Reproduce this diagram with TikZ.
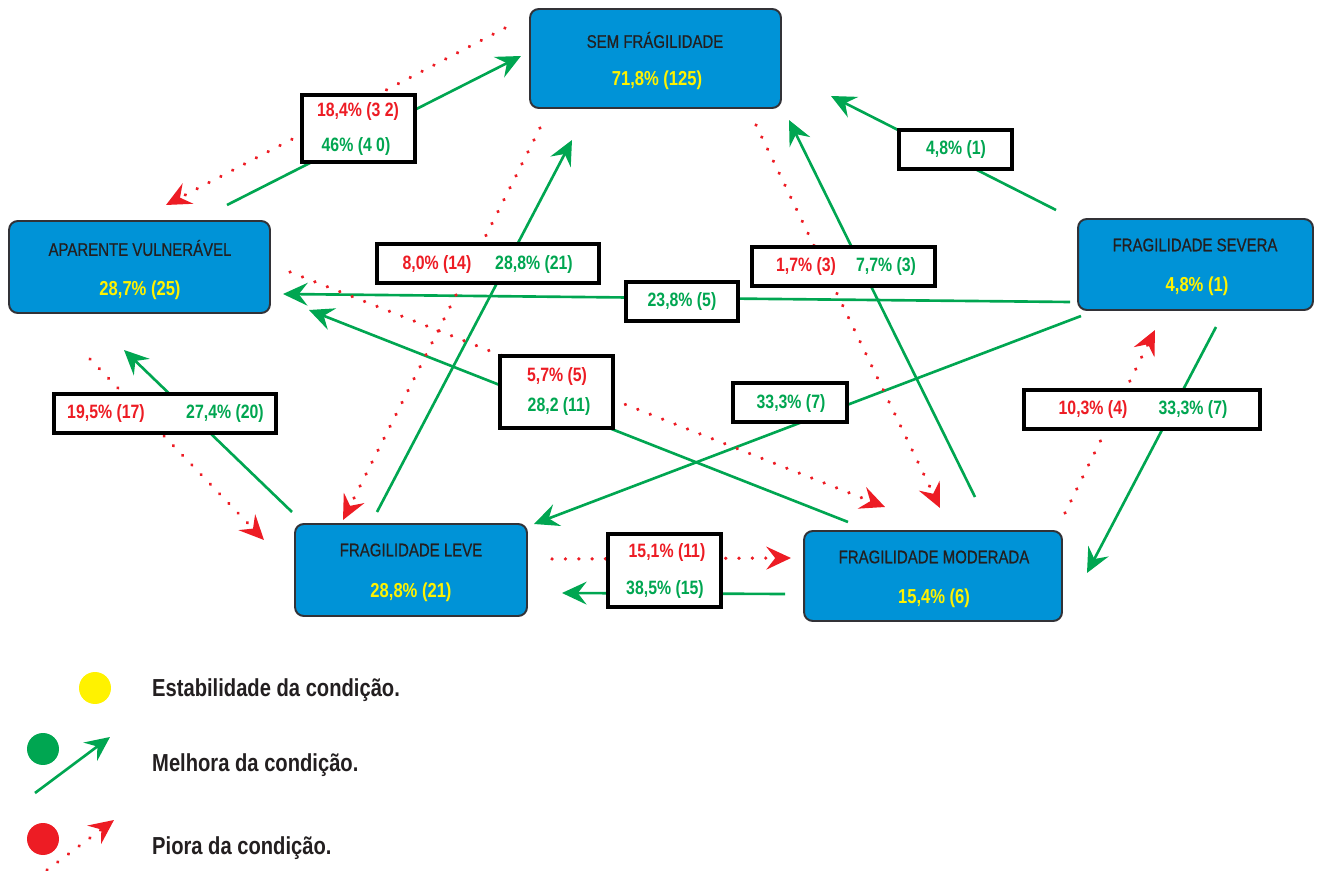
\documentclass[tikz,border=0pt]{standalone}
\usepackage{fontspec}
\setmainfont{Liberation Sans}[FakeStretch=0.82]
\usetikzlibrary{arrows.meta}

\definecolor{boxblue}{RGB}{0,147,215}
\definecolor{boxline}{RGB}{50,50,55}
\definecolor{darktext}{RGB}{35,31,32}
\definecolor{valyellow}{RGB}{255,242,0}
\definecolor{okgreen}{RGB}{0,166,81}
\definecolor{badred}{RGB}{237,28,36}

\begin{document}
\begin{tikzpicture}[x=0.02cm,y=-0.02cm,
  estado/.style={draw=boxline,fill=boxblue,line width=1.1pt,rounded corners=5pt,inner sep=0pt},
  titulo/.style={text=darktext,font=\fontsize{10.4}{12}\selectfont\addfontfeature{FakeBold=0.6}},
  valor/.style={text=valyellow,font=\bfseries\fontsize{11.5}{13}\selectfont},
  caixa/.style={draw=black,fill=white,line width=2pt,inner sep=0pt},
  verm/.style={text=badred,font=\bfseries\fontsize{11}{13}\selectfont},
  verd/.style={text=okgreen,font=\bfseries\fontsize{11}{13}\selectfont},
  melhora/.style={okgreen,line width=1.5pt,-{Stealth[length=14pt,width=13pt,inset=5pt]}},
  piora/.style={badred,line width=2pt,line cap=round,dash pattern=on 0.1pt off 7.5pt,-{Stealth[length=14pt,width=13pt,inset=5pt]}},
  legenda/.style={text=darktext,anchor=west,font=\bfseries\fontsize{14}{16}\selectfont}]
  \useasboundingbox (0,0) rectangle (1319,871);

  % Estados
  \node[estado,minimum width=5.02cm,minimum height=1.98cm] (sem) at (655.5,58.5) {};
  \node[estado,minimum width=5.22cm,minimum height=1.84cm] (av) at (139.5,267) {};
  \node[estado,minimum width=4.70cm,minimum height=1.82cm] (sev) at (1195.5,264.5) {};
  \node[estado,minimum width=4.64cm,minimum height=1.84cm] (leve) at (411,570) {};
  \node[estado,minimum width=5.16cm,minimum height=1.80cm] (mod) at (933,576) {};
  \node[titulo] (semt) at (655,40) {SEM FRÁGILIDADE};
  \node[valor] (semv) at (657,80) {71,8\% (125)};
  \node[titulo] (avt) at (140,248) {APARENTE VULNERÁVEL};
  \node[valor] (avv) at (140,290) {28,7\% (25)};
  \node[titulo] (sevt) at (1195,245) {FRAGILIDADE SEVERA};
  \node[valor] (sevv) at (1197,286) {4,8\% (1)};
  \node[titulo] (levet) at (411,550) {FRAGILIDADE LEVE};
  \node[valor] (levev) at (411,592) {28,8\% (21)};
  \node[titulo] (modt) at (934,557) {FRAGILIDADE MODERADA};
  \node[valor] (modv) at (934,598) {15,4\% (6)};

  % Pontas das setas
  \coordinate (g1a) at (227,205);  \coordinate (g1b) at (521,56);
  \coordinate (r1a) at (505,28);   \coordinate (r1b) at (166,205);
  \coordinate (g2a) at (377,512);  \coordinate (g2b) at (572,140);
  \coordinate (r2a) at (540,128);  \coordinate (r2b) at (343,520);
  \coordinate (r3a) at (756,125);  \coordinate (r3b) at (940,508);
  \coordinate (g3a) at (975,497);  \coordinate (g3b) at (789,120);
  \coordinate (g4a) at (1056,210); \coordinate (g4b) at (831,96);
  \coordinate (g5a) at (1070,302); \coordinate (g5b) at (283,294);
  \coordinate (g6a) at (848,522);  \coordinate (g6b) at (309,310);
  \coordinate (r4a) at (290,272);  \coordinate (r4b) at (885,507);
  \coordinate (g7a) at (1081,316); \coordinate (g7b) at (534,524);
  \coordinate (r5a) at (1065,513); \coordinate (r5b) at (1155,330);
  \coordinate (g8a) at (1216,327); \coordinate (g8b) at (1087,573);
  \coordinate (g9a) at (292,512);  \coordinate (g9b) at (124,350);
  \coordinate (r6a) at (90,359);   \coordinate (r6b) at (264,540);
  \coordinate (r7a) at (552,559);  \coordinate (r7b) at (791,558);
  \coordinate (g10a) at (785,594); \coordinate (g10b) at (562,593);

  % Melhora
  \draw[melhora] (g1a) -- (g1b);
  \draw[melhora] (g2a) -- (g2b);
  \draw[melhora] (g3a) -- (g3b);
  \draw[melhora] (g4a) -- (g4b);
  \draw[melhora] (g5a) -- (g5b);
  \draw[melhora] (g6a) -- (g6b);
  \draw[melhora] (g7a) -- (g7b);
  \draw[melhora] (g8a) -- (g8b);
  \draw[melhora] (g9a) -- (g9b);
  \draw[melhora] (g10a) -- (g10b);

  % Piora
  \draw[piora] (r1a) -- (r1b);
  \draw[piora] (r2a) -- (r2b);
  \draw[piora] (r3a) -- (r3b);
  \draw[piora] (r4a) -- (r4b);
  \draw[piora] (r5a) -- (r5b);
  \draw[piora] (r6a) -- (r6b);
  \draw[piora] (r7a) -- (r7b);

  % Caixas
  \node[caixa,minimum width=2.26cm,minimum height=1.34cm] (b1) at (358.5,128.5) {};
  \node[verm] (b1r) at (358,112) {18,4\% (3 2)};
  \node[verd] (b1g) at (356,147) {46\% (4 0)};
  \node[caixa,minimum width=4.44cm,minimum height=0.78cm] (b2) at (488,263.5) {};
  \node[verm] (b2r) at (437,265) {8,0\% (14)};
  \node[verd] (b2g) at (534,265) {28,8\% (21)};
  \node[caixa,minimum width=3.66cm,minimum height=0.78cm] (b3) at (843.5,266.5) {};
  \node[verm] (b3r) at (806,267) {1,7\% (3)};
  \node[verd] (b3g) at (886,267) {7,7\% (3)};
  \node[caixa,minimum width=2.26cm,minimum height=0.78cm] (b4) at (955.5,149.5) {};
  \node[verd] (b4g) at (956,150) {4,8\% (1)};
  \node[caixa,minimum width=2.24cm,minimum height=0.78cm] (b5) at (682,301.5) {};
  \node[verd] (b5g) at (682,302) {23,8\% (5)};
  \node[caixa,minimum width=4.44cm,minimum height=0.78cm] (b6) at (165,413.5) {};
  \node[verm] (b6r) at (106,414) {19,5\% (17)};
  \node[verd] (b6g) at (225,414) {27,4\% (20)};
  \node[caixa,minimum width=2.26cm,minimum height=1.44cm] (b7) at (556.5,392) {};
  \node[verm] (b7r) at (557,377) {5,7\% (5)};
  \node[verd] (b7g) at (559,407) {28,2 (11)};
  \node[caixa,minimum width=2.28cm,minimum height=0.78cm] (b8) at (790,402.5) {};
  \node[verd] (b8g) at (791,404) {33,3\% (7)};
  \node[caixa,minimum width=4.72cm,minimum height=0.78cm] (b9) at (1142,409.5) {};
  \node[verm] (b9r) at (1093,410) {10,3\% (4)};
  \node[verd] (b9g) at (1193,410) {33,3\% (7)};
  \node[caixa,minimum width=2.26cm,minimum height=1.46cm] (b10) at (664.5,570.5) {};
  \node[verm] (b10r) at (667,553) {15,1\% (11)};
  \node[verd] (b10g) at (665,590) {38,5\% (15)};

  % Legenda
  \node[circle,fill=valyellow,minimum size=0.64cm,inner sep=0pt] (l1) at (95,688) {};
  \node[circle,fill=okgreen,minimum size=0.64cm,inner sep=0pt] (l2) at (43,749) {};
  \node[circle,fill=badred,minimum size=0.64cm,inner sep=0pt] (l3) at (43,839) {};
  \coordinate (l2a) at (35,793);  \coordinate (l2b) at (110,737);
  \coordinate (l3a) at (47,870);  \coordinate (l3b) at (114,820);
  \draw[melhora] (l2a) -- (l2b);
  \draw[piora] (l3a) -- (l3b);
  \node[legenda] (t1) at (146,690) {Estabilidade da condição.};
  \node[legenda] (t2) at (146,765) {Melhora da condição.};
  \node[legenda] (t3) at (146,848) {Piora da condição.};
\end{tikzpicture}
\end{document}
